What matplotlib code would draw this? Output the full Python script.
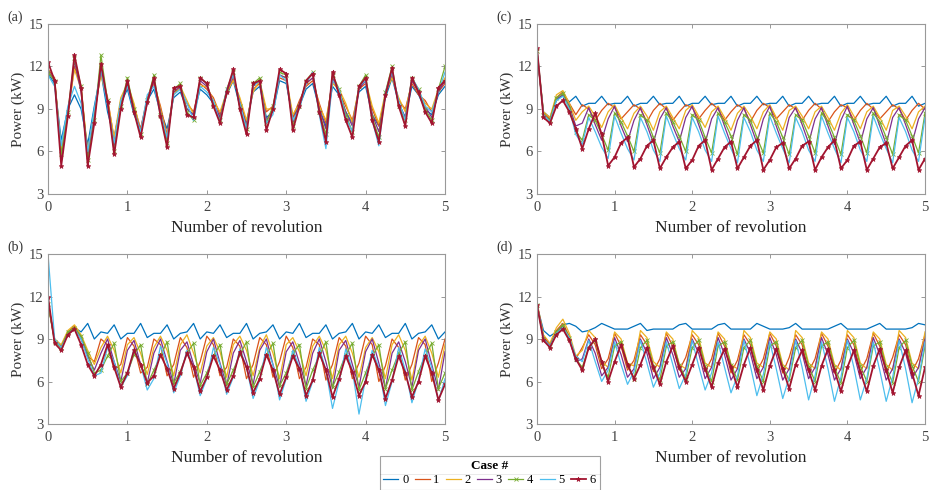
import numpy as np
import matplotlib
matplotlib.use("Agg")
import matplotlib.pyplot as plt
from matplotlib.lines import Line2D
from matplotlib.transforms import IdentityTransform

plt.rcParams.update({
    'font.family': ['Liberation Serif', 'DejaVu Serif'],
    'font.size': 10.5,
})

# ----------------------------
# Data (read off the figure, sampled every 1/12 revolution)
# ----------------------------
rev = np.linspace(0, 5, 61)
cases = ['0', '1', '2', '3', '4', '5', '6']
colors = ['#0072BD', '#D95319', '#EDB120', '#7E2F8E', '#77AC30', '#4DBEEE', '#A2142F']

# (a)
a0 = [11.5, 10.8, 6.8, 9.0, 10.0, 9.0, 6.5, 9.2, 11.6, 8.8,
      7.0, 9.4, 10.4, 8.6, 7.6, 9.6, 10.4, 8.8, 7.6, 9.8,
      10.2, 9.0, 8.6, 10.4, 10.0, 9.4, 8.4, 10.0, 11.0, 9.2,
      8.0, 10.2, 10.6, 8.4, 8.8, 11.0, 10.8, 8.4, 9.2, 10.4,
      10.8, 9.0, 7.8, 10.6, 10.0, 8.8, 8.0, 10.2, 10.6, 8.6,
      7.8, 9.8, 11.2, 9.4, 8.4, 10.6, 10.0, 9.0, 8.6, 10.0,
      10.6]
a1 = [11.8, 11.2, 6.0, 8.6, 12.0, 10.6, 5.8, 8.6, 11.6, 9.8,
      6.8, 9.6, 10.6, 9.2, 7.6, 9.8, 10.8, 9.2, 7.2, 10.2,
      10.4, 9.4, 8.8, 10.8, 10.4, 9.8, 8.6, 10.0, 11.2, 9.6,
      8.0, 10.4, 10.8, 8.8, 9.2, 11.2, 11.0, 8.4, 9.6, 10.6,
      11.0, 9.4, 8.0, 11.0, 10.2, 9.2, 8.2, 10.4, 10.8, 9.0,
      7.8, 10.0, 11.4, 9.6, 9.0, 10.8, 10.0, 9.6, 8.8, 10.2,
      10.8]
a2 = [11.6, 11.0, 6.2, 8.8, 11.8, 10.4, 6.0, 8.8, 11.4, 9.6,
      7.0, 9.8, 10.8, 9.4, 7.4, 9.6, 11.0, 9.0, 7.0, 10.0,
      10.6, 9.6, 8.6, 10.6, 10.6, 9.6, 8.8, 10.2, 11.0, 9.8,
      8.2, 10.2, 11.0, 9.0, 9.0, 11.4, 11.2, 8.6, 9.4, 10.8,
      11.2, 9.2, 8.2, 10.8, 10.4, 9.4, 8.0, 10.6, 11.0, 9.2,
      8.0, 10.2, 11.2, 9.8, 8.8, 11.0, 10.2, 9.4, 9.0, 10.4,
      11.2]
a3 = [11.7, 11.0, 5.6, 8.6, 12.4, 10.2, 5.6, 8.4, 11.8, 9.4,
      6.4, 9.4, 10.8, 9.0, 7.4, 9.4, 11.0, 8.8, 6.8, 10.2,
      10.6, 9.0, 8.6, 11.0, 10.6, 9.4, 8.4, 10.2, 11.4, 9.4,
      7.8, 10.6, 11.0, 8.2, 9.0, 11.4, 11.2, 8.0, 9.4, 10.8,
      11.2, 9.0, 7.6, 11.2, 10.2, 8.8, 7.8, 10.4, 11.0, 8.6,
      7.4, 10.0, 11.6, 9.4, 8.4, 11.0, 10.2, 9.2, 8.4, 10.2,
      11.0]
a4 = [11.6, 11.0, 5.8, 8.8, 12.6, 10.6, 5.4, 8.2, 12.8, 9.6,
      6.0, 9.2, 11.2, 9.0, 7.2, 9.6, 11.4, 8.6, 6.6, 10.4,
      10.8, 8.8, 8.2, 11.2, 10.8, 9.2, 8.2, 10.4, 11.6, 9.2,
      7.6, 10.8, 11.2, 8.0, 9.2, 11.6, 11.4, 7.8, 9.2, 11.0,
      11.6, 8.8, 7.2, 11.4, 10.4, 8.6, 7.4, 10.6, 11.4, 8.4,
      7.0, 10.2, 12.0, 9.2, 8.2, 11.2, 10.4, 9.0, 8.2, 10.4,
      12.0]
a5 = [11.4, 10.6, 6.4, 9.2, 10.6, 9.4, 6.0, 9.0, 11.8, 9.2,
      6.6, 9.6, 10.6, 8.8, 7.4, 10.0, 10.6, 8.6, 7.0, 10.0,
      10.4, 9.4, 8.2, 10.6, 10.2, 9.6, 8.0, 10.4, 11.4, 9.4,
      7.6, 10.6, 11.0, 8.0, 8.6, 11.4, 11.0, 8.2, 9.0, 10.8,
      11.6, 8.6, 6.2, 11.0, 10.4, 8.4, 7.4, 10.6, 11.0, 8.2,
      6.4, 10.2, 11.6, 9.6, 8.2, 11.2, 10.4, 9.2, 8.8, 10.2,
      11.6]
a6 = [12.3, 11.0, 5.0, 8.5, 12.8, 10.5, 5.0, 8.0, 12.2, 9.5,
      5.8, 9.0, 11.0, 8.8, 7.0, 9.5, 11.2, 8.5, 6.3, 10.5,
      10.6, 8.6, 8.4, 11.2, 10.8, 9.2, 8.0, 10.2, 11.8, 9.0,
      7.2, 10.8, 11.0, 7.5, 9.0, 11.8, 11.5, 7.5, 9.2, 11.0,
      11.5, 8.8, 6.7, 11.6, 10.0, 8.2, 7.0, 10.6, 11.2, 8.2,
      6.7, 10.0, 11.9, 9.2, 7.8, 11.2, 10.2, 8.8, 8.0, 10.5,
      11.0]

# (b)
b0 = [11.5, 9.0, 8.5, 9.4, 9.8, 9.5, 10.1, 9.0, 9.5, 9.4,
      10.0, 9.0, 9.4, 9.4, 10.1, 9.1, 9.4, 9.4, 10.0, 9.0,
      9.4, 9.5, 10.1, 9.0, 9.5, 9.4, 10.0, 9.1, 9.4, 9.4,
      10.1, 9.0, 9.4, 9.5, 10.0, 9.0, 9.5, 9.4, 10.1, 9.1,
      9.4, 9.4, 10.0, 9.0, 9.4, 9.5, 10.1, 9.0, 9.5, 9.4,
      10.0, 9.1, 9.4, 9.4, 10.1, 9.0, 9.4, 9.5, 10.0, 9.0,
      9.5]
b1 = [11.5, 8.9, 8.5, 9.5, 9.9, 9.1, 7.8, 7.4,
      9.0, 8.6, 6.8, 7.2, 9.1, 8.5, 6.6, 7.0, 9.0, 8.6, 6.4, 7.2,
      9.1, 8.4, 6.3, 7.4, 9.2, 8.6, 6.4, 7.0, 9.0, 8.5, 6.2, 7.2,
      9.1, 8.6, 6.3, 7.4, 9.2, 8.4, 6.2, 7.0, 9.0, 8.6, 6.1, 7.2,
      9.1, 8.5, 6.2, 7.3, 9.2, 8.6, 6.0, 7.1, 9.0, 8.4, 6.1, 7.2,
      9.1, 8.6, 6.0, 7.3, 9.0]
b2 = [11.6, 9.0, 8.6, 9.6, 10.0, 9.3, 8.2, 7.2,
      8.4, 9.2, 8.2, 6.6, 8.6, 9.1, 8.0, 6.5, 8.4, 9.2, 8.2, 6.4,
      8.6, 9.3, 8.0, 6.6, 8.5, 9.1, 8.1, 6.3, 8.6, 9.2, 8.2, 6.4,
      8.4, 9.3, 8.0, 6.2, 8.6, 9.1, 8.1, 6.4, 8.5, 9.2, 8.2, 6.2,
      8.6, 9.2, 8.0, 6.3, 8.4, 9.1, 8.1, 6.2, 8.6, 9.3, 8.2, 6.1,
      8.5, 9.2, 8.0, 6.3, 8.6]
b3 = [11.6, 8.9, 8.4, 9.4, 9.8, 9.0, 7.8, 6.8,
      8.0, 9.0, 7.4, 6.0, 8.2, 8.9, 7.2, 5.9, 8.0, 9.0, 7.4, 5.8,
      8.2, 8.8, 7.2, 5.9, 8.1, 9.0, 7.3, 5.7, 8.0, 8.9, 7.4, 5.8,
      8.2, 9.0, 7.2, 5.6, 8.1, 8.8, 7.3, 5.7, 8.0, 9.0, 7.4, 5.5,
      8.2, 8.9, 7.2, 5.6, 8.1, 9.0, 7.3, 5.5, 8.0, 8.8, 7.4, 5.6,
      8.2, 9.0, 7.2, 5.4, 8.1]
b4 = [11.5, 8.8, 8.4, 9.5, 9.8, 9.2, 8.0, 6.6,
      6.8, 7.8, 8.7, 6.0, 6.6, 7.9, 8.6, 5.8, 6.8, 7.8, 8.8, 5.9,
      6.7, 8.0, 8.7, 5.7, 6.6, 7.8, 8.6, 5.8, 6.8, 7.9, 8.8, 5.6,
      6.7, 7.8, 8.7, 5.7, 6.6, 8.0, 8.6, 5.5, 6.8, 7.8, 8.8, 5.6,
      6.7, 7.9, 8.7, 5.4, 6.6, 7.8, 8.6, 5.5, 6.8, 8.0, 8.8, 5.4,
      6.7, 7.8, 8.7, 5.5, 6.6]
b5 = [15.0, 9.0, 8.4, 9.3, 9.7, 9.0, 7.6, 6.4,
      6.6, 8.4, 7.4, 5.6, 6.4, 8.3, 7.2, 5.4, 6.2, 8.5, 7.3, 5.2,
      6.4, 8.2, 7.0, 5.0, 6.2, 8.4, 7.2, 5.1, 6.3, 8.3, 7.0, 4.8,
      6.1, 8.4, 7.2, 4.7, 6.2, 8.2, 7.0, 4.6, 6.0, 8.4, 6.8, 4.1,
      6.0, 8.3, 6.8, 3.7, 6.2, 8.2, 7.0, 4.3, 6.0, 8.4, 6.8, 4.5,
      6.1, 8.3, 7.0, 4.6, 6.2]
b6 = [12.0, 8.7, 8.2, 9.3, 9.7, 8.6, 7.2, 6.4,
      7.2, 8.6, 7.0, 5.6, 6.6, 8.2, 7.2, 5.9, 6.4, 7.9, 6.9, 5.5,
      6.6, 8.0, 7.0, 5.3, 6.3, 7.8, 6.8, 5.4, 6.4, 8.1, 7.0, 5.2,
      6.2, 7.9, 6.8, 5.1, 6.3, 7.8, 6.9, 5.0, 6.1, 8.0, 6.8, 4.9,
      6.2, 7.8, 6.7, 5.0, 6.0, 7.9, 6.8, 4.8, 6.1, 7.8, 6.6, 4.9,
      6.0, 7.8, 6.6, 4.7, 5.8]

# (c)
c0 = [13.0, 8.8, 8.4, 9.6, 10.0, 9.5, 9.9, 9.2, 9.4, 9.4,
      9.9, 9.3, 9.4, 9.4, 9.9, 9.2, 9.4, 9.4, 9.9, 9.3,
      9.4, 9.4, 9.9, 9.2, 9.4, 9.4, 9.9, 9.3, 9.4, 9.4,
      9.9, 9.2, 9.4, 9.4, 9.9, 9.3, 9.4, 9.4, 9.9, 9.2,
      9.4, 9.4, 9.9, 9.3, 9.4, 9.4, 9.9, 9.2, 9.4, 9.4,
      9.9, 9.3, 9.4, 9.4, 9.9, 9.2, 9.4, 9.4, 9.9, 9.2,
      9.4]
c1 = [13.0, 8.7, 8.3, 9.8, 10.2, 9.4, 8.6, 9.3,
      9.0, 8.2, 8.9, 9.4, 9.1, 8.3, 8.8, 9.3, 9.0, 8.1, 8.9, 9.4,
      9.0, 8.2, 8.8, 9.3, 9.1, 8.3, 8.9, 9.4, 9.0, 8.2, 8.8, 9.3,
      9.0, 8.1, 8.9, 9.4, 9.1, 8.3, 8.8, 9.3, 9.0, 8.2, 8.9, 9.4,
      9.0, 8.1, 8.8, 9.3, 9.1, 8.2, 8.9, 9.4, 9.0, 8.3, 8.8, 9.3,
      9.0, 8.2, 8.9, 9.4, 9.0]
c2 = [13.2, 8.8, 8.4, 10.0, 10.3, 9.4, 8.2, 8.8,
      9.2, 8.5, 7.7, 8.8, 9.3, 8.4, 7.6, 8.7, 9.2, 8.5, 7.5, 8.8,
      9.2, 8.4, 7.6, 8.9, 9.3, 8.5, 7.7, 8.8, 9.2, 8.4, 7.5, 8.7,
      9.2, 8.5, 7.6, 8.8, 9.3, 8.4, 7.5, 8.9, 9.2, 8.5, 7.6, 8.8,
      9.2, 8.4, 7.5, 8.7, 9.3, 8.5, 7.6, 8.8, 9.2, 8.4, 7.5, 8.9,
      9.2, 8.5, 7.6, 8.8, 9.2]
c3 = [13.0, 8.6, 8.2, 9.7, 10.0, 9.2, 7.8, 8.0,
      9.1, 7.9, 6.8, 8.3, 9.2, 7.8, 6.7, 8.2, 9.1, 7.9, 6.6, 8.3,
      9.1, 7.8, 6.7, 8.4, 9.2, 7.9, 6.6, 8.3, 9.1, 7.8, 6.5, 8.2,
      9.1, 7.9, 6.6, 8.3, 9.2, 7.8, 6.5, 8.4, 9.1, 7.9, 6.6, 8.3,
      9.1, 7.8, 6.5, 8.2, 9.2, 7.9, 6.6, 8.3, 9.1, 7.8, 6.5, 8.4,
      9.1, 7.9, 6.6, 8.3, 9.1]
c4 = [13.1, 8.6, 8.2, 9.8, 10.1, 9.1, 7.4, 6.8,
      8.6, 8.2, 7.2, 6.1, 8.7, 8.1, 7.1, 6.0, 8.6, 8.2, 7.0, 5.9,
      8.7, 8.1, 7.1, 6.0, 8.6, 8.2, 7.0, 5.9, 8.7, 8.1, 7.1, 5.8,
      8.6, 8.2, 7.0, 5.9, 8.7, 8.1, 7.0, 5.8, 8.6, 8.2, 7.1, 5.9,
      8.7, 8.1, 7.0, 5.8, 8.6, 8.2, 7.1, 5.9, 8.7, 8.1, 7.0, 5.8,
      8.6, 8.2, 7.1, 5.9, 8.7]
c5 = [13.3, 8.6, 8.1, 9.6, 9.9, 9.0, 7.2, 6.5,
      8.4, 7.4, 6.3, 5.5, 8.5, 7.3, 6.2, 5.4, 8.4, 7.4, 6.1, 5.3,
      8.5, 7.3, 6.2, 5.4, 8.4, 7.4, 6.1, 5.3, 8.5, 7.3, 6.2, 5.2,
      8.4, 7.4, 6.1, 5.3, 8.5, 7.3, 6.2, 5.2, 8.4, 7.4, 6.1, 5.3,
      8.5, 7.3, 6.2, 5.2, 8.4, 7.4, 6.1, 5.3, 8.5, 7.3, 6.2, 5.2,
      8.4, 7.4, 6.1, 5.3, 8.4]
c6 = [13.3, 8.4, 8.0, 9.2, 9.6, 8.8, 7.6, 6.2,
      7.6, 8.7, 7.2, 5.0, 5.6, 6.6, 7.0, 4.9, 5.5, 6.4, 6.8, 4.8,
      5.6, 6.3, 6.7, 4.8, 5.4, 6.4, 6.8, 4.7, 5.5, 6.3, 6.7, 4.8,
      5.6, 6.4, 6.8, 4.7, 5.4, 6.3, 6.6, 4.8, 5.5, 6.4, 6.7, 4.7,
      5.6, 6.3, 6.8, 4.8, 5.4, 6.4, 6.7, 4.7, 5.5, 6.3, 6.6, 4.8,
      5.6, 6.4, 6.8, 4.7, 5.5]

# (d)
d0 = [11.4, 9.6, 9.2, 9.5, 10.0, 10.1, 9.9, 9.5, 9.6, 9.8,
      10.1, 9.9, 9.7, 9.7, 9.7, 9.9, 10.1, 9.6, 9.7, 9.7,
      9.7, 9.7, 10.0, 10.1, 9.7, 9.7, 9.7, 9.7, 10.0, 10.1,
      9.7, 9.7, 9.7, 9.7, 10.1, 9.9, 9.7, 9.7, 9.7, 9.8,
      10.1, 9.7, 9.7, 9.7, 9.7, 9.7, 9.9, 10.1, 9.7, 9.7,
      9.7, 9.7, 9.9, 10.1, 9.7, 9.7, 9.7, 9.7, 9.8, 10.1,
      10.0]
d1 = [11.5, 9.2, 8.6, 9.6, 10.1, 9.2, 7.6, 8.4,
      9.3, 8.6, 6.9, 7.6, 9.4, 8.5, 6.8, 7.5, 9.3, 8.6, 6.7, 7.6,
      9.4, 8.5, 6.8, 7.7, 9.3, 8.6, 6.7, 7.6, 9.4, 8.5, 6.6, 7.5,
      9.3, 8.6, 6.7, 7.6, 9.4, 8.5, 6.6, 7.7, 9.3, 8.6, 6.7, 7.6,
      9.4, 8.5, 6.6, 7.5, 9.3, 8.6, 6.7, 7.6, 9.4, 8.5, 6.6, 7.7,
      9.3, 8.6, 6.7, 7.6, 9.3]
d2 = [11.6, 9.3, 8.7, 9.8, 10.4, 9.4, 7.8, 8.2,
      9.6, 9.1, 7.4, 7.0, 9.5, 9.0, 7.3, 7.1, 9.6, 9.1, 7.4, 7.0,
      9.5, 9.0, 7.2, 6.9, 9.6, 9.1, 7.3, 7.0, 9.5, 9.0, 7.2, 6.9,
      9.6, 9.1, 7.3, 7.0, 9.5, 9.0, 7.2, 6.8, 9.6, 9.1, 7.3, 6.9,
      9.5, 9.0, 7.2, 6.8, 9.6, 9.1, 7.3, 6.9, 9.5, 9.0, 7.2, 6.8,
      9.6, 9.1, 7.3, 6.9, 9.5]
d3 = [11.5, 9.1, 8.5, 9.5, 9.9, 9.0, 7.4, 7.6,
      9.0, 8.0, 6.4, 7.0, 9.1, 7.9, 6.3, 6.9, 9.0, 8.0, 6.2, 7.0,
      9.1, 7.9, 6.3, 6.9, 9.0, 8.0, 6.2, 7.0, 9.1, 7.9, 6.1, 6.9,
      9.0, 8.0, 6.2, 7.0, 9.1, 7.9, 6.1, 6.9, 9.0, 8.0, 6.2, 7.0,
      9.1, 7.9, 6.1, 6.9, 9.0, 8.0, 6.2, 7.0, 9.1, 7.9, 6.1, 6.9,
      9.0, 8.0, 6.2, 7.0, 9.0]
d4 = [11.4, 9.0, 8.5, 9.5, 10.0, 9.1, 7.6, 7.0,
      8.4, 8.9, 7.3, 6.3, 8.5, 8.8, 7.2, 6.2, 8.4, 8.9, 7.1, 6.1,
      8.5, 8.8, 7.2, 6.2, 8.4, 8.9, 7.1, 6.0, 8.5, 8.8, 7.2, 6.1,
      8.4, 8.9, 7.1, 6.0, 8.5, 8.8, 7.0, 6.1, 8.4, 8.9, 7.1, 6.0,
      8.5, 8.8, 7.0, 5.9, 8.4, 8.9, 7.1, 6.0, 8.5, 8.8, 7.0, 5.9,
      8.4, 8.9, 7.1, 6.0, 8.5]
d5 = [11.4, 9.0, 8.5, 9.4, 9.8, 9.1, 7.8, 7.4,
      8.9, 7.4, 6.0, 6.8, 8.8, 7.2, 5.8, 6.7, 8.9, 7.3, 5.6, 6.6,
      8.8, 7.2, 5.5, 6.5, 8.9, 7.1, 5.4, 6.6, 8.8, 7.0, 5.2, 6.4,
      8.9, 7.1, 5.0, 6.5, 8.8, 6.9, 4.8, 6.3, 8.9, 7.0, 4.7, 6.4,
      8.8, 6.9, 4.6, 6.3, 8.9, 7.0, 4.7, 6.2, 8.8, 6.8, 4.6, 6.3,
      8.9, 6.9, 4.5, 6.2, 8.8]
d6 = [11.4, 8.9, 8.4, 9.3, 9.7, 8.9, 7.6, 6.8,
      8.4, 9.0, 7.4, 6.0, 7.4, 8.6, 7.2, 6.2, 7.2, 8.4, 7.0, 5.8,
      7.4, 8.5, 7.0, 6.0, 7.2, 8.4, 6.9, 5.6, 7.3, 8.3, 7.0, 5.6,
      7.2, 8.4, 6.8, 5.4, 7.1, 8.3, 6.9, 5.5, 7.2, 8.2, 6.8, 5.4,
      7.1, 8.3, 6.8, 5.3, 7.0, 8.2, 6.7, 5.3, 7.1, 8.3, 6.8, 5.2,
      7.0, 8.2, 6.6, 5.0, 7.0]

panels = [
    ('(a)', [a0, a1, a2, a3, a4, a5, a6]),
    ('(b)', [b0, b1, b2, b3, b4, b5, b6]),
    ('(c)', [c0, c1, c2, c3, c4, c5, c6]),
    ('(d)', [d0, d1, d2, d3, d4, d5, d6]),
]

# ----------------------------
# Layout (pixel boxes of the original figure: left, top, width)
# ----------------------------
W, H = 932, 490
boxes = {'(a)': (48, 24, 397), '(b)': (48, 254, 397),
         '(c)': (537, 24, 388), '(d)': (537, 254, 388)}
AX_H = 170

fig = plt.figure(figsize=(W / 100, H / 100), dpi=100)

handles = None
for tag, series in panels:
    left, top, width = boxes[tag]
    ax = fig.add_axes([left / W, 1 - (top + AX_H) / H, width / W, AX_H / H])
    lines = []
    for k, y in enumerate(series):
        kw = dict(color=colors[k], lw=0.9)
        if k == 4:
            kw.update(marker='x', ms=2.5, mew=0.6)
        if k == 6:
            kw.update(lw=1.3, marker='*', ms=3.5, mew=0.5)
        ln, = ax.plot(rev, y, **kw)
        lines.append(ln)
    handles = lines

    ax.set_xlim(0, 5)
    ax.set_ylim(3, 15)
    ax.set_xticks(range(6))
    ax.set_yticks([3, 6, 9, 12, 15])
    ax.tick_params(direction='in', top=True, right=True, length=3, width=0.6,
                   color='#888888', labelcolor='#444444', labelsize=10.5)
    ax.tick_params(axis='x', pad=5)
    ax.tick_params(axis='y', pad=3)
    for s in ax.spines.values():
        s.set_color('#999999')
        s.set_linewidth(0.8)
    ax.set_xlabel('Number of revolution', fontsize=12.5, color='#222222', labelpad=4)
    ax.set_ylabel('Power (kW)', fontsize=11, color='#333333', labelpad=3)
    ax.text(-0.103 * 397 / width, 1.04, tag, transform=ax.transAxes, fontsize=10,
            va='center', ha='left', color='#333333')

leg = fig.legend(handles, cases, loc='upper center', bbox_to_anchor=(489.5 / W, 1 - 456 / H),
                 ncol=7, fontsize=9, title='Case #',
                 title_fontproperties={'weight': 'bold', 'size': 9.5},
                 handlelength=1.2, handletextpad=0.3, columnspacing=0.5,
                 frameon=True, fancybox=False, edgecolor='#888888',
                 borderpad=0.3, labelspacing=0.2, borderaxespad=0)
leg.get_frame().set_linewidth(0.8)

fig.canvas.draw()
bb = leg.get_window_extent()
tb = leg.get_title().get_window_extent()
ysep = tb.y0 - 2
fig.add_artist(Line2D([bb.x0, bb.x1], [ysep, ysep], transform=IdentityTransform(),
                      color='#999999', lw=0.7))

fig.savefig('out.png', dpi=100)
